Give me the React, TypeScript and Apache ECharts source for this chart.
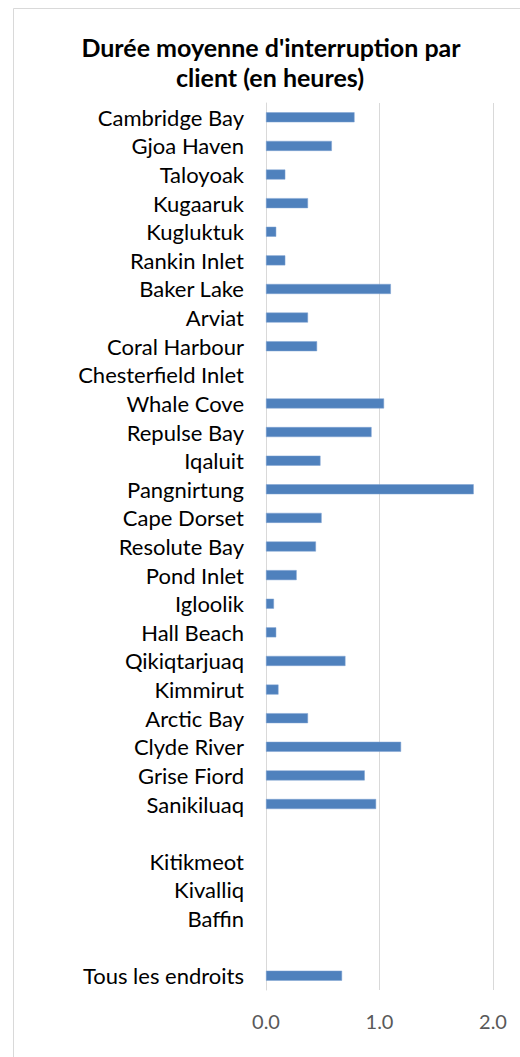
import React, { useEffect, useRef } from "react";
import * as echarts from "echarts";

const categories = [
  "Cambridge Bay", "Gjoa Haven", "Taloyoak", "Kugaaruk", "Kugluktuk",
  "Rankin Inlet", "Baker Lake", "Arviat", "Coral Harbour", "Chesterfield Inlet",
  "Whale Cove", "Repulse Bay", "Iqaluit", "Pangnirtung", "Cape Dorset",
  "Resolute Bay", "Pond Inlet", "Igloolik", "Hall Beach", "Qikiqtarjuaq",
  "Kimmirut", "Arctic Bay", "Clyde River", "Grise Fiord", "Sanikiluaq",
  "", "Kitikmeot", "Kivalliq", "Baffin", " ", "Tous les endroits",
];

const values: (number | null)[] = [
  0.78, 0.58, 0.17, 0.37, 0.09,
  0.17, 1.10, 0.37, 0.45, null,
  1.04, 0.93, 0.48, 1.83, 0.49,
  0.44, 0.27, 0.07, 0.09, 0.70,
  0.11, 0.37, 1.19, 0.87, 0.97,
  null, null, null, null, null, 0.67,
];

const xTicks = [0, 1, 2];
const titleLines = ["Durée moyenne d'interruption par", "client (en heures)"];

const FONT = "Lato";

export default function App() {
  const ref = useRef<HTMLDivElement>(null);
  useEffect(() => {
    if (!ref.current) return;
    const chart = echarts.init(ref.current, null, { renderer: "svg" });
    chart.setOption({
      animation: false,
      backgroundColor: "#ffffff",
      graphic: [
        {
          type: "rect",
          left: 11,
          top: 6,
          shape: { width: 560, height: 1100 },
          style: { fill: "none", stroke: "#d9d9d9", lineWidth: 1 },
          silent: true,
        },
        {
          type: "text",
          x: 271,
          y: 47,
          style: {
            text: titleLines[0],
            fill: "#000000",
            font: `bold 25px ${FONT}`,
            textAlign: "center",
            textVerticalAlign: "middle",
          },
        },
        {
          type: "text",
          x: 270,
          y: 77,
          style: {
            text: titleLines[1],
            fill: "#000000",
            font: `bold 25px ${FONT}`,
            textAlign: "center",
            textVerticalAlign: "middle",
          },
        },
      ],
      grid: {
        left: 266,
        right: 520 - 493,
        top: 103,
        bottom: 1057 - 990,
        containLabel: false,
      },
      xAxis: {
        type: "value",
        min: xTicks[0],
        max: xTicks[xTicks.length - 1],
        interval: 1,
        axisLine: { show: false },
        axisTick: { show: false },
        splitLine: { show: true, lineStyle: { color: "#d9d9d9", width: 1 } },
        axisLabel: {
          margin: 21,
          color: "#595959",
          fontFamily: FONT,
          fontSize: 20,
          formatter: (v: number) => v.toFixed(1),
        },
      },
      yAxis: {
        type: "category",
        inverse: true,
        data: categories,
        axisLine: { show: true, lineStyle: { color: "#d9d9d9", width: 1 } },
        axisTick: { show: false },
        axisLabel: {
          margin: 22,
          color: "#000000",
          fontFamily: FONT,
          fontSize: 22,
          interval: 0,
        },
      },
      series: [
        {
          type: "bar",
          data: values,
          barWidth: 10,
          itemStyle: { color: "#4f81bd", borderColor: "#7ea3d3", borderWidth: 0.5 },
        },
      ],
    });
    return () => chart.dispose();
  }, []);
  return (
    <div
      ref={ref}
      style={{ position: "absolute", left: 0, top: 0, width: 520, height: 1057 }}
    />
  );
}
